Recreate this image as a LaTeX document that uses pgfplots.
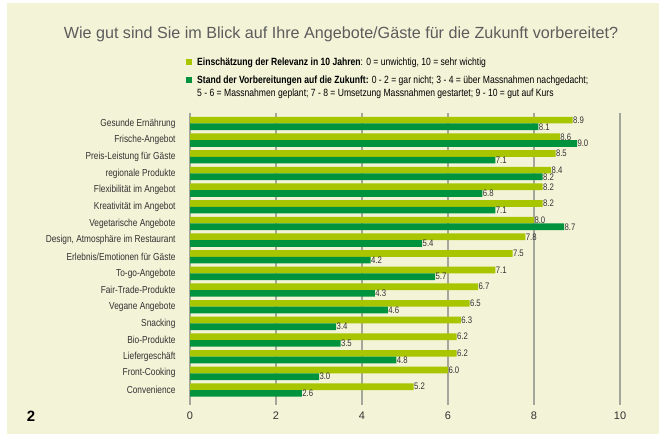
\documentclass[border=0pt]{standalone}
\usepackage{pgfplots}
\pgfplotsset{compat=1.18}
\usepackage{fontspec}
\setmainfont{Liberation Sans}
\newfontfamily\cond{Liberation Sans}[FakeStretch=0.82]

\definecolor{panel}{HTML}{F2F3D7}
\definecolor{lightgreen}{HTML}{A8C600}
\definecolor{darkgreen}{HTML}{00933D}
\definecolor{gridgray}{HTML}{A4A59B}
\definecolor{txt}{HTML}{333333}

\begin{document}
\begin{tikzpicture}
% page frame and panel
\path[fill=white] (0bp,0bp) rectangle (659bp,437bp);
\path[fill=panel] (7bp,3bp) rectangle (659bp,434bp);

% title
\node[text=txt!80!white, font=\fontsize{16.2}{16}\selectfont] at (341bp,402.5bp)
  {Wie gut sind Sie im Blick auf Ihre Angebote/Gäste für die Zukunft vorbereitet?};

% legend
\fill[lightgreen] (186bp,372bp) rectangle (192bp,378bp);
\node[anchor=base west, inner sep=0, text=black, font=\cond\fontsize{10.5}{10}\selectfont] at (197bp,371bp)
  {\textbf{Einschätzung der Relevanz in 10 Jahren}: 0 = unwichtig, 10 = sehr wichtig};
\fill[darkgreen] (186bp,354bp) rectangle (192bp,360bp);
\node[anchor=base west, inner sep=0, text=black, font=\cond\fontsize{10.5}{10}\selectfont] at (197bp,353bp)
  {\textbf{Stand der Vorbereitungen auf die Zukunft:} 0 - 2 = gar nicht; 3 - 4 = über Massnahmen nachgedacht;};
\node[anchor=base west, inner sep=0, text=black, font=\cond\fontsize{10.5}{10}\selectfont] at (197bp,340bp)
  {5 - 6 = Massnahmen geplant; 7 - 8 = Umsetzung Massnahmen gestartet; 9 - 10 = gut auf Kurs};

% figure number
\node[font=\bfseries\fontsize{15}{15}\selectfont] at (31bp,21bp) {2};

\begin{axis}[
  at={(190bp,32bp)}, anchor=south west,
  scale only axis, width=430bp, height=292bp,
  xmin=0, xmax=10, ymin=-0.63, ymax=16.9,
  y dir=reverse,
  xtick={0,2,4,6,8,10},
  ytick={0,...,16},
  yticklabels={Gesunde Ernährung, Frische-Angebot, Preis-Leistung für Gäste, regionale Produkte,
    Flexibilität im Angebot, Kreativität im Angebot, Vegetarische Angebote,
    {Design, Atmosphäre im Restaurant}, Erlebnis/Emotionen für Gäste, To-go-Angebote,
    Fair-Trade-Produkte, Vegane Angebote, Snacking, Bio-Produkte, Liefergeschäft,
    Front-Cooking, Convenience},
  axis line style={draw=none},
  major tick length=0,
  xmajorgrids, grid style={gridgray, line width=1.3bp},
  /pgf/number format/assume math mode=true,
  xticklabel style={text=txt, font=\fontsize{11}{11}\selectfont, yshift=-3.5bp},
  yticklabel style={text=txt, font=\cond\fontsize{10.2}{10}\selectfont, xshift=-11bp},
  xbar, bar width=0.40,
  nodes near coords,
  nodes near coords align={horizontal},
  every node near coord/.append style={text=txt, font=\cond\fontsize{9.5}{9}\selectfont,
    anchor=west, inner sep=0.3bp,
    /pgf/number format/fixed, /pgf/number format/fixed zerofill, /pgf/number format/precision=1},
  clip=false,
]
\addplot[draw=none, fill=lightgreen, bar shift=-0.2] coordinates {
  (8.9,0) (8.6,1) (8.5,2) (8.4,3) (8.2,4) (8.2,5) (8.0,6) (7.8,7) (7.5,8)
  (7.1,9) (6.7,10) (6.5,11) (6.3,12) (6.2,13) (6.2,14) (6.0,15) (5.2,16)};
\addplot[draw=none, fill=darkgreen, bar shift=0.2] coordinates {
  (8.1,0) (9.0,1) (7.1,2) (8.2,3) (6.8,4) (7.1,5) (8.7,6) (5.4,7) (4.2,8)
  (5.7,9) (4.3,10) (4.6,11) (3.4,12) (3.5,13) (4.8,14) (3.0,15) (2.6,16)};
\end{axis}
\end{tikzpicture}
\end{document}
